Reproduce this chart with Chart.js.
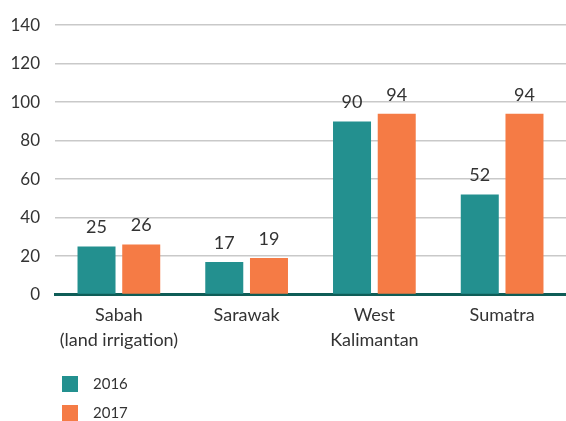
<!DOCTYPE html>
<html><head><meta charset="utf-8">
<script src="https://cdn.jsdelivr.net/npm/chart.js@4/dist/chart.umd.min.js"></script>
<style>html,body{margin:0;padding:0;background:#fff;}#wrap{width:566px;height:421px;position:relative;}</style>
</head><body><div id="wrap"><canvas id="c" width="566" height="421"></canvas></div>
<script>
const categories = [["Sabah","(land irrigation)"],"Sarawak",["West","Kalimantan"],"Sumatra"];
const seriesNames = ["2016","2017"];
const values2016 = [25,17,90,52];
const values2017 = [26,19,94,94];
const yTicks = [0,20,40,60,80,100,120,140];
const colors = ["#23908f","#f57b45"];
const FONT = "Lato, 'Noto Sans', sans-serif";

const valueLabels = {
  id:'valueLabels',
  afterDatasetsDraw(chart){
    const ctx = chart.ctx;
    ctx.save();
    ctx.font = "18px " + FONT;
    ctx.fillStyle = "#333";
    ctx.textAlign = "center";
    ctx.textBaseline = "middle";
    chart.data.datasets.forEach((ds,i)=>{
      chart.getDatasetMeta(i).data.forEach((bar,j)=>{
        ctx.fillText(String(ds.data[j]), bar.x, bar.y - 19);
      });
    });
    ctx.restore();
  }
};
const vLegend = {
  id:'vLegend',
  afterDraw(chart){
    const ctx = chart.ctx;
    ctx.save();
    ctx.font = "15px " + FONT;
    ctx.textBaseline = "middle";
    ctx.textAlign = "left";
    chart.data.datasets.forEach((ds,i)=>{
      const y = 384 + i*29;
      ctx.fillStyle = ds.backgroundColor;
      ctx.fillRect(62, y-8, 16, 16);
      ctx.fillStyle = "#333";
      ctx.fillText(ds.label, 93, y);
    });
    ctx.restore();
  }
};

new Chart(document.getElementById('c'), {
  type:'bar',
  data:{
    labels: categories,
    datasets:[
      {label:seriesNames[0], data:values2016, backgroundColor:colors[0]},
      {label:seriesNames[1], data:values2017, backgroundColor:colors[1]}
    ]
  },
  options:{
    responsive:false,
    animation:false,
    devicePixelRatio:1,
    categoryPercentage:0.7,
    barPercentage:0.85,
    layout:{padding:{top:22,left:0,right:0,bottom:60}},
    plugins:{legend:{display:false},tooltip:{enabled:false}},
    scales:{
      x:{
        grid:{display:false,drawTicks:false},
        border:{display:true,color:"#0f5d57",width:3},
        ticks:{color:"#333",font:{family:FONT,size:18,lineHeight:1.4},padding:8,maxRotation:0,autoSkip:false}
      },
      y:{
        min:0,max:140,
        afterBuildTicks(s){ s.ticks = yTicks.map(v=>({value:v})); },
        afterFit(s){ s.width = 55; },
        grid:{color:"#c9c9c9",lineWidth:1.5,drawTicks:false},
        border:{display:false},
        ticks:{color:"#333",font:{family:FONT,size:17},padding:15}
      }
    }
  },
  plugins:[valueLabels,vLegend]
});
</script></body></html>
